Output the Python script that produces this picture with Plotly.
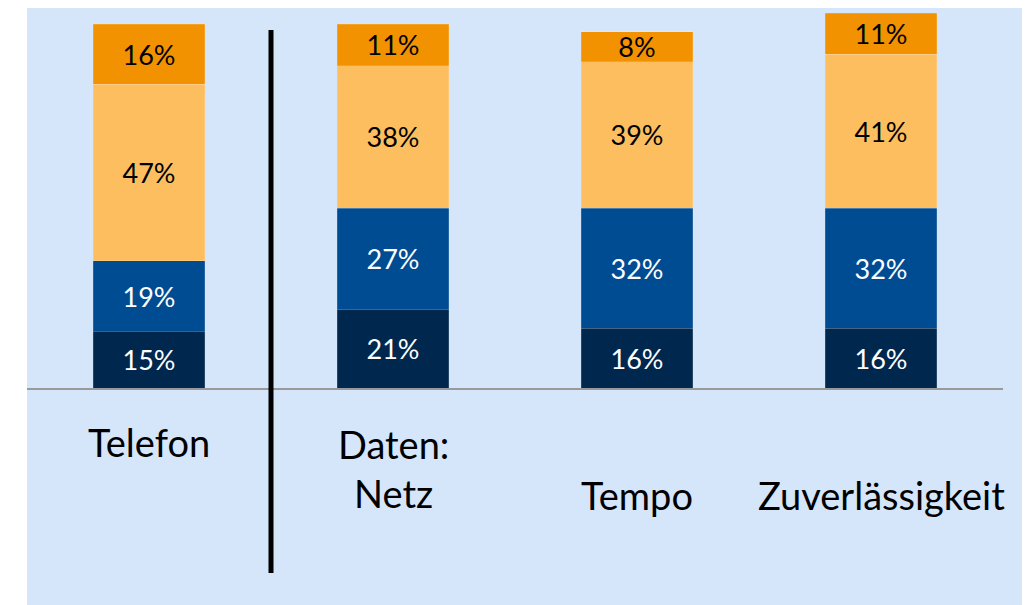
import plotly.graph_objects as go

categories = ["Telefon", "Daten:<br>Netz", "Tempo", "Zuverlässigkeit"]
label_y = [-0.145, -0.214, -0.284, -0.284]  # paper y for category labels
navy = [15, 21, 16, 16]
blue = [19, 27, 32, 32]
light_orange = [47, 38, 39, 41]
dark_orange = [16, 11, 8, 11]

series = [
    ("navy", navy, "#00284F", "white"),
    ("blue", blue, "#004C93", "white"),
    ("light", light_orange, "#FDBE5F", "black"),
    ("dark", dark_orange, "#F39200", "black"),
]

FONT = "Lato"
xs = list(range(len(categories)))

fig = go.Figure()
for name, vals, color, tcolor in series:
    fig.add_trace(go.Bar(
        x=xs, y=vals, name=name,
        marker=dict(color=color, line=dict(width=0.6, color="rgba(255,255,255,0.25)")),
        text=[f"{v}%" for v in vals],
        textposition="inside", insidetextanchor="middle",
        textfont=dict(family=FONT, size=27, color=tcolor),
        constraintext="none",
        hoverinfo="skip",
    ))

fig.update_layout(
    barmode="stack", bargap=0.545,
    width=1030, height=605,
    margin=dict(l=19, r=35, t=5, b=225, pad=0),
    paper_bgcolor="white", plot_bgcolor="rgba(0,0,0,0)",
    showlegend=False,
    font=dict(family=FONT),
    xaxis=dict(range=[-0.5, 3.5], showticklabels=False, showgrid=False, zeroline=False,
               showline=True, linecolor="#999999", linewidth=2, ticks=""),
    yaxis=dict(range=[0, 100], visible=False),
)

# light blue panel background
fig.add_shape(type="rect", xref="paper", yref="paper", x0=0, x1=1.06, y0=-0.62, y1=1.016,
              fillcolor="#D5E6FB", line=dict(width=0), layer="below")
# separator line
fig.add_shape(type="line", xref="x", yref="paper", x0=0.5, x1=0.5, y0=-0.493, y1=0.955,
              line=dict(color="black", width=5))

for i, (c, ly) in enumerate(zip(categories, label_y)):
    fig.add_annotation(x=i, y=ly, xref="x", yref="paper", text=c, showarrow=False,
                       yanchor="middle", xanchor="center",
                       font=dict(family=FONT, size=38, color="black"))

fig.write_html("out.html")
